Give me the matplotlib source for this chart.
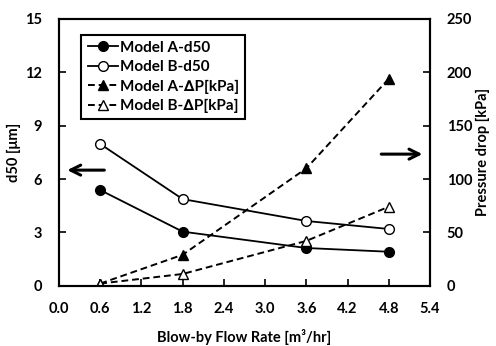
import matplotlib.pyplot as plt

# data
flow = [0.6, 1.8, 3.6, 4.8]
d50_a = [5.38, 3.04, 2.12, 1.91]
d50_b = [7.97, 4.87, 3.64, 3.19]
dp_a = [2, 29, 110, 194]
dp_b = [2, 11, 42, 74]

x_ticks = [0.0, 0.6, 1.2, 1.8, 2.4, 3.0, 3.6, 4.2, 4.8, 5.4]
left_ticks = [0, 3, 6, 9, 12, 15]
right_ticks = [0, 50, 100, 150, 200, 250]

plt.rcParams['font.family'] = ['Lato', 'DejaVu Sans']
plt.rcParams['font.weight'] = 'bold'
plt.rcParams['font.size'] = 10.5

fig = plt.figure(figsize=(4.96, 3.46), dpi=100)
ax = fig.add_axes([59 / 496, 1 - 285.7 / 346, (430 - 59) / 496, (285.7 - 19) / 346])
ax2 = ax.twinx()

dash = (0, (3.5, 2))
l1, = ax.plot(flow, d50_a, '-', color='black', lw=1.3, marker='o', ms=7,
              mfc='black', mec='black', label='Model A-d50')
l2, = ax.plot(flow, d50_b, '-', color='black', lw=1.3, marker='o', ms=7,
              mfc='white', mec='black', label='Model B-d50')
l3, = ax2.plot(flow, dp_a, linestyle=dash, color='black', lw=1.4, marker='^', ms=7,
               mfc='black', mec='black', label='Model A-\u2206P[kPa]')
l4, = ax2.plot(flow, dp_b, linestyle=dash, color='black', lw=1.4, marker='^', ms=7,
               mfc='white', mec='black', label='Model B-\u2206P[kPa]')

ax.set_xlim(0, 5.4)
ax.set_ylim(0, 15)
ax2.set_ylim(0, 250)
ax.set_xticks(x_ticks)
ax.set_xticklabels([f'{v:.1f}' for v in x_ticks])
ax.set_yticks(left_ticks)
ax2.set_yticks(right_ticks)

for a in (ax, ax2):
    for s in a.spines.values():
        s.set_linewidth(1.5)
    a.tick_params(direction='in', length=5, width=1.2, labelsize=10.5)
ax.tick_params(axis='x', pad=12)
ax.tick_params(axis='y', pad=12)
ax2.tick_params(axis='y', pad=12)

ax.set_xlabel('Blow-by Flow Rate [m\u00b3/hr]', fontsize=10.5, fontweight='bold', labelpad=9)
ax.set_ylabel('d50 [\u03bcm]', fontsize=10.5, fontweight='bold', labelpad=3)
ax2.set_ylabel('Pressure drop [kPa]', fontsize=10.5, fontweight='bold', labelpad=3)

leg = ax.legend(handles=[l1, l2, l3, l4], loc='upper left',
                bbox_to_anchor=(0.04, 0.97), frameon=True, fancybox=False,
                framealpha=1, edgecolor='black', handlelength=2.0,
                handletextpad=0.1, labelspacing=0.35, borderpad=0.4,
                fontsize=11)
leg.get_frame().set_linewidth(1.5)

# direction arrows
ax.annotate('', xy=(0.08, 6.5), xytext=(0.7, 6.5),
            arrowprops=dict(arrowstyle='->', lw=2.2, color='black', mutation_scale=18))
ax.annotate('', xy=(5.33, 7.4), xytext=(4.65, 7.4),
            arrowprops=dict(arrowstyle='->', lw=2.2, color='black', mutation_scale=18))

fig.savefig('out.png', dpi=100)
